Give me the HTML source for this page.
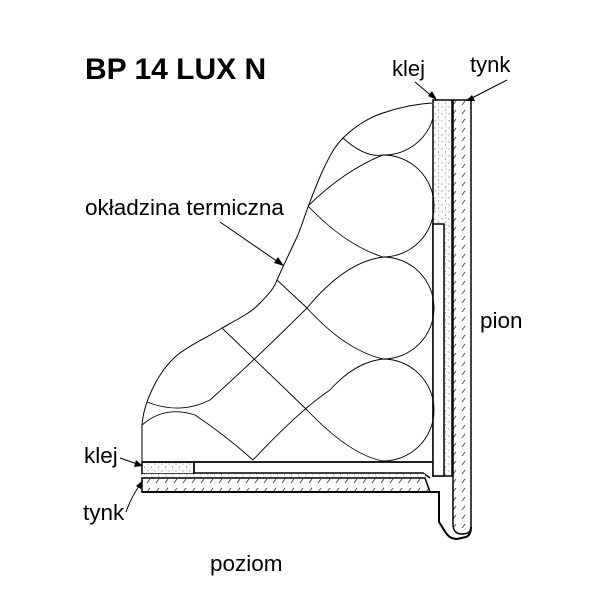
<!DOCTYPE html>
<html><head><meta charset="utf-8"><style>
html,body{margin:0;padding:0;background:#fff}
svg{display:block}
text{font-family:"Liberation Sans",Arial,sans-serif;fill:#000}
</style></head><body>
<svg width="600" height="600" viewBox="0 0 600 600" xmlns="http://www.w3.org/2000/svg">
<defs>
<pattern id="dots" width="7" height="7" patternUnits="userSpaceOnUse">
<rect width="7" height="7" fill="#fff"/>
<circle cx="1" cy="2" r="0.5" fill="#333"/><circle cx="4.5" cy="5" r="0.5" fill="#333"/><circle cx="5" cy="1" r="0.4" fill="#333"/>
</pattern>
<pattern id="hatch" width="9" height="9" patternUnits="userSpaceOnUse">
<rect width="9" height="9" fill="#fff"/>
<line x1="3" y1="6" x2="6" y2="2" stroke="#333" stroke-width="0.8"/>
</pattern>
</defs>
<text x="85" y="79" font-size="30" font-weight="bold">BP 14 LUX N</text>
<text x="392" y="76" font-size="22">klej</text>
<text x="470" y="72" font-size="22">tynk</text>
<text x="85" y="215" font-size="22.5">okładzina termiczna</text>
<text x="480" y="328" font-size="22.5">pion</text>
<text x="84" y="463" font-size="22.5">klej</text>
<text x="83" y="520" font-size="22.5">tynk</text>
<text x="210" y="571" font-size="22.5">poziom</text>

<g stroke="#000" fill="none">
<rect x="433" y="100" width="19" height="376" fill="url(#dots)" stroke-width="1.5"/>
<path d="M453 100 H471 V527 Q471 534 462 534 Q453 534 453 524 Z" fill="url(#hatch)" stroke-width="1.5"/>
<rect x="433" y="224" width="11" height="252" fill="#fff" stroke-width="1.5"/>
<rect x="142" y="462" width="52" height="12" fill="url(#dots)" stroke-width="1.5"/>
<path d="M194 462 H433 M194 462 V473 H423 L430 478" stroke-width="1.5"/>
<rect x="142" y="474" width="283" height="4" fill="url(#dots)" stroke="none"/>
<path d="M142 478 H425 L430 492 H142 Z" fill="url(#hatch)" stroke-width="1.5"/>
<path d="M142 492 H439 V522 L446 533 Q450 539 457 539 L466 537 Q471 535 471 527" stroke-width="2"/>
<path d="M142 462 V425 C144 400 160 368 180 353 C195 342 210 336 222 328 C240 318 252 312 260 303 C270 293 274 288 277 280 C285 262 290 252 297 237 C301 228 304 218 308 207 C313 194 317 183 323 170 C330 155 335 146 343 138 C355 126 370 117 383 113 C400 107 415 104 432 103" stroke-width="1"/>
<path d="M142 462 H433" stroke-width="1.5"/>
<g stroke-width="0.9">
<path d="M343 138 Q365 158 383 155 A51 51 0 0 0 433 118"/>
<path d="M308 206 Q345 170 383 155 A51 51 0 0 1 383 257 Q345 245 308 206"/>
<path d="M147 402 Q180 415 210 400 Q260 355 307 308 Q345 262 383 257 A51 51 0 0 1 383 359 Q345 350 307 308 L277 280"/>
<path d="M142 425 Q165 405 195 415 Q225 435 253 460 Q300 410 330 390 Q355 362 383 359 A51 51 0 0 1 383 461 Q350 455 307 410 L222 328"/>
</g>
<g stroke-width="1">
<line x1="415" y1="82" x2="434" y2="98"/>
<line x1="507" y1="80" x2="470" y2="99"/>
<line x1="220" y1="222" x2="281" y2="264"/>
<line x1="120" y1="458" x2="140" y2="465"/>
<path d="M126 512 Q132 495 142 482"/>
</g>
</g>
<g fill="#000">
<polygon points="437,100 428,96 432,91"/>
<polygon points="466,101 472,95 475,101"/>
<polygon points="284,266 274,263 278,257"/>
<polygon points="143,466 134,467 136,460"/>
<polygon points="143,480 141,489 136,486"/>
</g>
</svg>
</body></html>
